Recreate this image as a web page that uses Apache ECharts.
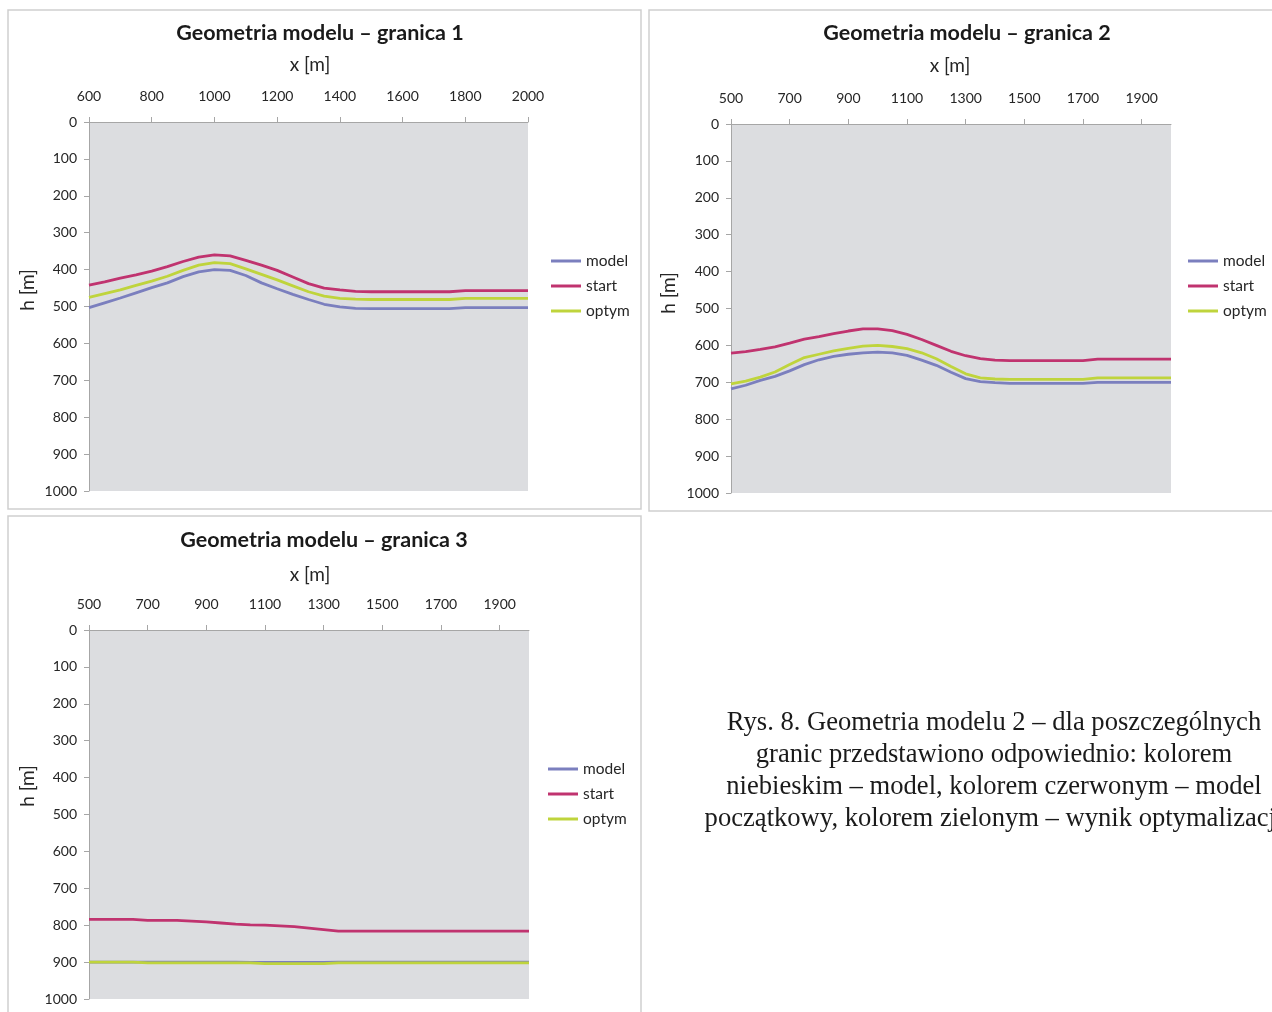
<!DOCTYPE html>
<html>
<head>
<meta charset="utf-8">
<script src="https://cdn.jsdelivr.net/npm/echarts@6/dist/echarts.min.js"></script>
<style>
  html, body { margin: 0; padding: 0; background: #ffffff; }
  #chart { width: 1272px; height: 1012px; }
</style>
</head>
<body>
<div id="chart"></div>
<script>
// Boundary 1: horizontal positions [m] and depths h [m]
const x1 = [600, 650, 700, 750, 800, 850, 900, 950, 1000, 1050, 1100, 1150, 1200, 1250, 1300,
            1350, 1400, 1450, 1500, 1550, 1600, 1650, 1700, 1750, 1800, 1850, 1900, 1950, 2000];
const model1 = [503, 490, 477, 463, 449, 436, 419, 406, 400, 402, 416, 436, 452, 467, 481,
                494, 501, 505, 506, 506, 506, 506, 506, 506, 503, 503, 503, 503, 503];
const start1 = [442, 433, 423, 414, 404, 392, 378, 366, 360, 363, 375, 388, 402, 420, 438,
                450, 455, 459, 460, 460, 460, 460, 460, 460, 457, 457, 457, 457, 457];
const optym1 = [475, 465, 455, 443, 431, 418, 402, 388, 381, 384, 398, 413, 428, 444, 460,
                472, 478, 480, 481, 481, 481, 481, 481, 481, 478, 478, 478, 478, 478];

// Boundary 2
const x2 = [500, 550, 600, 650, 700, 750, 800, 850, 900, 950, 1000, 1050, 1100, 1150, 1200, 1250,
            1300, 1350, 1400, 1450, 1500, 1550, 1600, 1650, 1700, 1750, 1800, 1850, 1900, 1950, 2000];
const model2 = [718, 708, 695, 684, 669, 652, 639, 630, 624, 620, 618, 620, 627, 640, 654, 673,
                690, 698, 701, 703, 703, 703, 703, 703, 703, 700, 700, 700, 700, 700, 700];
const start2 = [621, 617, 611, 604, 594, 583, 576, 568, 561, 555, 555, 560, 570, 584, 600, 616,
                628, 636, 640, 641, 641, 641, 641, 641, 641, 637, 637, 637, 637, 637, 637];
const optym2 = [704, 697, 686, 672, 652, 633, 624, 615, 608, 602, 600, 603, 609, 620, 636, 657,
                677, 688, 691, 692, 692, 692, 692, 692, 692, 688, 688, 688, 688, 688, 688];

// Boundary 3
const x3 = [500, 550, 600, 650, 700, 750, 800, 850, 900, 950, 1000, 1050, 1100, 1150, 1200, 1250,
            1300, 1350, 1400, 1450, 1500, 1550, 1600, 1650, 1700, 1750, 1800, 1850, 1900, 1950, 2000];
const model3 = [900, 900, 900, 900, 900, 900, 900, 900, 900, 900, 900, 901, 901, 901, 901, 901,
                901, 900, 900, 900, 900, 900, 900, 900, 900, 900, 900, 900, 900, 900, 900];
const start3 = [784, 784, 784, 784, 787, 787, 787, 789, 791, 794, 797, 799, 800, 802, 804, 808,
                812, 816, 816, 816, 816, 816, 816, 816, 816, 816, 816, 816, 816, 816, 816];
const optym3 = [900, 900, 900, 900, 902, 902, 902, 902, 902, 902, 902, 902, 904, 904, 904, 904,
                904, 902, 902, 902, 902, 902, 902, 902, 902, 902, 902, 902, 902, 902, 902];

const seriesNames = ['model', 'start', 'optym'];
const chartTitles = ['Geometria modelu \u2013 granica 1', 'Geometria modelu \u2013 granica 2', 'Geometria modelu \u2013 granica 3'];
const xAxisName = 'x [m]';
const yAxisName = 'h [m]';
const captionLines = [
  'Rys. 8. Geometria modelu 2 \u2013 dla poszczeg\u00f3lnych',
  'granic przedstawiono odpowiednio: kolorem',
  'niebieskim \u2013 model, kolorem czerwonym \u2013 model',
  'pocz\u0105tkowy, kolorem zielonym \u2013 wynik optymalizacji'
];

const COLORS = { model: '#7b7fbe', start: '#c0336f', optym: '#bfd43c' };
const FONT = 'Lato, "Open Sans", sans-serif';
const TEXT = '#262626';
const plain = v => String(v);

const panels = [
  { xs: x1, sets: [model1, start1, optym1], xMin: 600, xMax: 2000, showMax: true,
    grid: { left: 89, top: 122, width: 439, height: 369 },
    box: [8, 10, 633, 499], title: [320, 33], xName: [310, 65], yName: [28, 290], legend: [551, 253] },
  { xs: x2, sets: [model2, start2, optym2], xMin: 500, xMax: 2000, showMax: false,
    grid: { left: 731, top: 124, width: 440, height: 369 },
    box: [649, 10, 640, 501], title: [967, 33], xName: [950, 66], yName: [669, 293], legend: [1188, 253] },
  { xs: x3, sets: [model3, start3, optym3], xMin: 500, xMax: 2000, showMax: false,
    grid: { left: 89, top: 630, width: 440, height: 369 },
    box: [8, 516, 633, 520], title: [324, 540], xName: [310, 575], yName: [28, 786], legend: [548, 761] }
];

const grid = [], xAxis = [], yAxis = [], series = [], legend = [], graphic = [];

panels.forEach((p, i) => {
  grid.push(Object.assign({ show: true, backgroundColor: '#dcdde0', borderWidth: 0 }, p.grid));

  xAxis.push({
    type: 'value', gridIndex: i, position: 'top',
    min: p.xMin, max: p.xMax, interval: 200,
    axisLine: { show: true, lineStyle: { color: '#a6a6a6', width: 1 } },
    axisTick: { show: true, length: 5, lineStyle: { color: '#a6a6a6' } },
    axisLabel: { margin: 19, fontFamily: FONT, fontSize: 14, color: TEXT, showMaxLabel: p.showMax, formatter: plain },
    splitLine: { show: false }
  });

  yAxis.push({
    type: 'value', gridIndex: i, inverse: true,
    min: 0, max: 1000, interval: 100,
    axisLine: { show: true, lineStyle: { color: '#a6a6a6', width: 1 } },
    axisTick: { show: true, length: 5, lineStyle: { color: '#a6a6a6' } },
    axisLabel: { margin: 12, fontFamily: FONT, fontSize: 14, color: TEXT, formatter: plain },
    splitLine: { show: false }
  });

  seriesNames.forEach((name, k) => {
    series.push({
      name: name, type: 'line', xAxisIndex: i, yAxisIndex: i,
      data: p.xs.map((x, j) => [x, p.sets[k][j]]),
      showSymbol: false, symbol: 'none',
      lineStyle: { color: COLORS[name], width: 2.8 },
      itemStyle: { color: COLORS[name] },
      silent: true
    });
  });

  legend.push({
    data: seriesNames, orient: 'vertical', left: p.legend[0], top: p.legend[1],
    padding: 0, icon: 'rect', itemWidth: 30, itemHeight: 3, itemGap: 9,
    textStyle: { fontFamily: FONT, fontSize: 15.5, color: TEXT, lineHeight: 14 },
    selectedMode: false
  });

  graphic.push({
    type: 'rect', silent: true, z: -10,
    shape: { x: p.box[0], y: p.box[1], width: p.box[2], height: p.box[3] },
    style: { fill: '#ffffff', stroke: '#cfcfcf', lineWidth: 1.5 }
  });
  graphic.push({
    type: 'text', silent: true,
    style: { x: p.title[0], y: p.title[1], text: chartTitles[i], align: 'center', verticalAlign: 'middle',
             font: 'bold 21.5px ' + FONT, fill: '#1a1a1a' }
  });
  graphic.push({
    type: 'text', silent: true,
    style: { x: p.xName[0], y: p.xName[1], text: xAxisName, align: 'center', verticalAlign: 'middle',
             font: '19px ' + FONT, fill: TEXT }
  });
  graphic.push({
    type: 'text', silent: true, x: p.yName[0], y: p.yName[1], rotation: Math.PI / 2,
    style: { x: 0, y: 0, text: yAxisName, align: 'center', verticalAlign: 'middle',
             font: '19px ' + FONT, fill: TEXT }
  });
});

captionLines.forEach((line, i) => {
  graphic.push({
    type: 'text', silent: true,
    style: { x: 994, y: 723 + i * 32, text: line, align: 'center', verticalAlign: 'middle',
             font: '26.6px "Liberation Serif", "DejaVu Serif", serif', fill: '#1a1a1a' }
  });
});

const chart = echarts.init(document.getElementById('chart'));
chart.setOption({
  backgroundColor: '#ffffff',
  animation: false,
  grid, xAxis, yAxis, series, legend, graphic
});
</script>
</body>
</html>
